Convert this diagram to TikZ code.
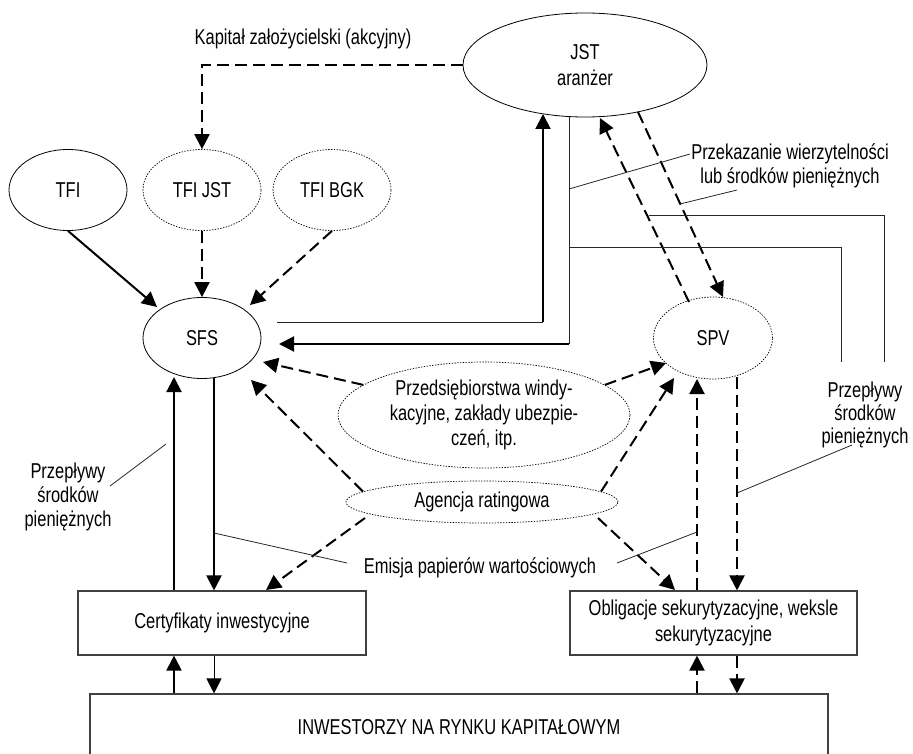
\documentclass[tikz,border=0pt]{standalone}
\usepackage{fontspec}
\setmainfont{Liberation Sans}[FakeStretch=0.765]
\usetikzlibrary{arrows.meta,shapes.geometric}
\begin{document}
\begin{tikzpicture}[x=1pt,y=-1pt,
  every node/.style={font=\fontsize{21.5}{24}\selectfont, inner sep=0pt, align=center},
  solidell/.style={ellipse, draw=black, line width=0.8pt},
  dotell/.style={ellipse, draw=black, line width=0.7pt, dash pattern=on 1.4pt off 1.4pt},
  box/.style={rectangle, draw=black!75, line width=1.1pt},
  tiphead/.style={-{Triangle[length=15pt,width=15pt]}},
  thickarr/.style={line width=2pt, tiphead},
  dasharr/.style={line width=2pt, dash pattern=on 12pt off 6pt, tiphead},
  thinarr/.style={line width=1pt, tiphead},
  thinline/.style={line width=0.8pt, draw=black!85},
]
\useasboundingbox (0,0) rectangle (913,754);
\clip (0,0) rectangle (913,754);

% ---------- nodes ----------
\node (kap) at (303,39) {Kapitał założycielski (akcyjny)};
\node[solidell, minimum width=244pt, minimum height=104pt, font=\fontsize{21.5}{26}\selectfont] (jst) at (585,65) {JST\\aranżer};
\node[solidell, minimum width=118pt, minimum height=81pt] (tfi) at (68,190) {TFI};
\node[dotell, minimum width=118pt, minimum height=81pt] (tfijst) at (202,190) {TFI JST};
\node[dotell, minimum width=118pt, minimum height=81pt] (tfibgk) at (332,190) {TFI BGK};
\node[solidell, minimum width=118pt, minimum height=81pt] (sfs) at (202,338) {SFS};
\node[dotell, minimum width=119pt, minimum height=82pt] (spv) at (713,338) {SPV};
\node[dotell, minimum width=292pt, minimum height=106pt, font=\fontsize{21.5}{25}\selectfont] (przeds) at (484,415) {Przedsiębiorstwa windy-\\kacyjne, zakłady ubezpie-\\czeń, itp.};
\node[dotell, minimum width=272pt, minimum height=42pt] (agencja) at (482,502) {Agencja ratingowa};
\node[box, minimum width=288pt, minimum height=64pt] (cert) at (222,623) {Certyfikaty inwestycyjne};
\node[box, minimum width=287pt, minimum height=64pt, font=\fontsize{21.5}{26}\selectfont] (oblig) at (713.5,623) {Obligacje sekurytyzacyjne, weksle\\sekurytyzacyjne};
\node[box, minimum width=738pt, minimum height=66pt] (inw) at (459,727) {INWESTORZY NA RYNKU KAPITAŁOWYM};

\node (przek) at (790,166) {Przekazanie wierzytelności\\lub środków pieniężnych};
\node[font=\fontsize{21.5}{23}\selectfont] (przepR) at (865,415) {Przepływy\\środków\\pieniężnych};
\node (przepL) at (68,497) {Przepływy\\środków\\pieniężnych};
\node (emisja) at (480,568) {Emisja papierów wartościowych};

% ---------- coordinates ----------
\coordinate (bgkT) at (250,305);
\coordinate (tfiT) at (157,307);
\coordinate (spvA) at (689,302);
\coordinate (jstA) at (600,118);
\coordinate (jstB) at (638,112);
\coordinate (spvB) at (723,297);
\coordinate (sfsP) at (263,362);
\coordinate (spvP) at (666,363);
\coordinate (sfsG) at (251,380);
\coordinate (spvG) at (674,378);
\coordinate (agL) at (365,518);
\coordinate (certG) at (266,590);
\coordinate (agR) at (598,518);
\coordinate (obligG) at (675,590);
\coordinate (spvD) at (737,377);
\coordinate (spvU) at (697,379);
\coordinate (sfsD) at (214,378);
\coordinate (sfsU) at (174,377);
\coordinate (sfsOut) at (277,322);
\coordinate (cornerA) at (543,322);
\coordinate (jstIn) at (543,114);
\coordinate (jstOut) at (569,117);
\coordinate (cornerB) at (569,344);
\coordinate (sfsIn) at (279,344);

% ---------- dashed connectors ----------
\draw[dasharr] (jst.west) -| (tfijst.north);
\draw[dasharr] (tfijst.south) -- (sfs.north);
\draw[dasharr] (tfibgk.south) -- (bgkT);
\draw[dasharr] (spvA) -- (jstA);
\draw[dasharr] (jstB) -- (spvB);
\draw[dasharr] (przeds.166) -- (sfsP);
\draw[dasharr] (przeds.14) -- (spvP);
\draw[dasharr] (agencja.175) -- (sfsG);
\draw[dasharr] (agencja.5) -- (spvG);
\draw[dasharr] (agL) -- (certG);
\draw[dasharr] (agR) -- (obligG);
\draw[dasharr] (spvD) -- (spvD |- oblig.north);
\draw[dasharr] (spvU |- oblig.north) -- (spvU);
\draw[dasharr] (spvD |- oblig.south) -- (spvD |- inw.north);
\draw[dasharr] (spvU |- inw.north) -- (spvU |- oblig.south);

% ---------- solid connectors ----------
\draw[thickarr] (tfi.south) -- (tfiT);
\draw[thickarr] (sfsD) -- (sfsD |- cert.north);
\draw[thickarr] (sfsU |- cert.north) -- (sfsU);
\draw[thickarr] (sfsU |- inw.north) -- (sfsU |- cert.south);
\draw[thinarr] (sfsD |- cert.south) -- (sfsD |- inw.north);

\draw[thinline] (sfsOut) -- (cornerA);
\draw[thickarr] (cornerA) -- (jstIn);
\draw[thinline] (jstOut) -- (cornerB);
\draw[thickarr] (cornerB) -- (sfsIn);

% ---------- leader lines ----------
\draw[thinline] (569,189) -- (690,154);
\draw[thinline] (680,204) -- (737,190);
\draw[thinline] (649,215) -- (884,215) -- (884,362);
\draw[thinline] (569,247) -- (841,247) -- (841,362);
\draw[thinline] (852,445) -- (737,493);
\draw[thinline] (110,486) -- (166,444);
\draw[thinline] (214,533) -- (347,563);
\draw[thinline] (617,563) -- (697,532);
\end{tikzpicture}
\end{document}
